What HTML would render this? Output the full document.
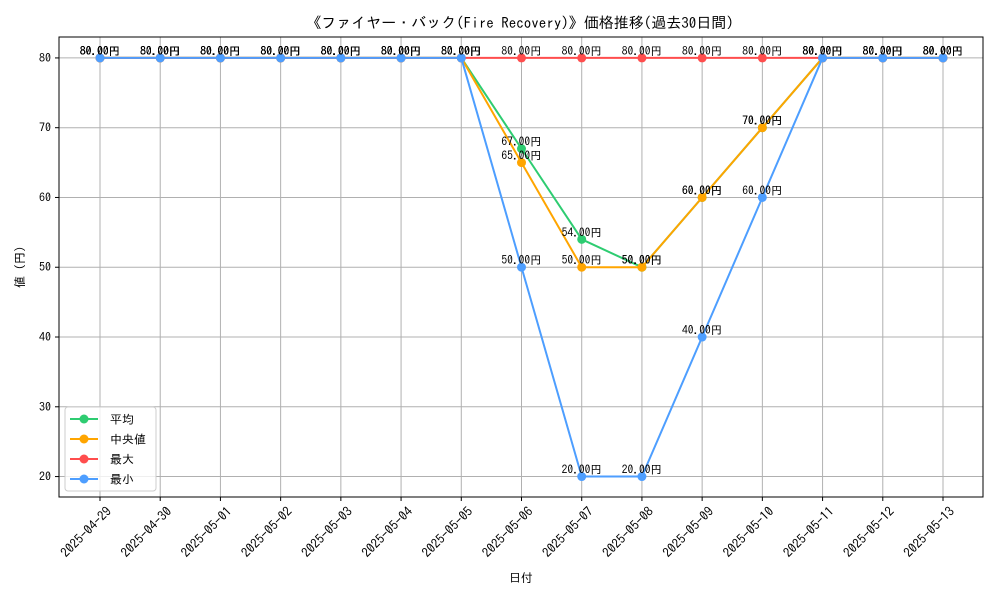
<!DOCTYPE html>
<html><head><meta charset="utf-8"><style>
body{margin:0;background:#fff}
svg text{font-family:"IPAGothic","Liberation Sans","Noto Sans CJK JP",sans-serif;fill:#000}
</style></head><body>
<svg id="chart" width="1000" height="600" xmlns="http://www.w3.org/2000/svg">
<rect width="1000" height="600" fill="#fff"/>
<text x="520" y="28" font-size="15" text-anchor="middle">《ファイヤー・バック(Fire Recovery)》価格推移(過去30日間)</text>
<g id="grid"></g>
<g id="axes"></g>
<g id="series"></g>
<rect x="59" y="37" width="924" height="460" fill="none" stroke="#000" stroke-width="1"/>
<text x="521" y="582" font-size="12" text-anchor="middle">日付</text>
<text transform="translate(24,267) rotate(-90)" font-size="12" text-anchor="middle">値 (円)</text>
<g id="legend"></g>
</svg>
<script>
const dates=["2025-04-29","2025-04-30","2025-05-01","2025-05-02","2025-05-03","2025-05-04","2025-05-05","2025-05-06","2025-05-07","2025-05-08","2025-05-09","2025-05-10","2025-05-11","2025-05-12","2025-05-13"];
const avgValues=[80,80,80,80,80,80,80,67,54,50,60,70,80,80,80];
const medianValues=[80,80,80,80,80,80,80,65,50,50,60,70,80,80,80];
const maxValues=[80,80,80,80,80,80,80,80,80,80,80,80,80,80,80];
const minValues=[80,80,80,80,80,80,80,50,20,20,40,60,80,80,80];
const yTicks=[20,30,40,50,60,70,80];
const seriesNames=["平均","中央値","最大","最小"];

const NS="http://www.w3.org/2000/svg";
const X0=100,X1=943,Y0=17.07,Y1=83.0,PT=37,PB=497;
const xs=i=>X0+(X1-X0)*i/(dates.length-1);
const ys=v=>PB-(v-Y0)/(Y1-Y0)*(PB-PT);
function mk(tag,attrs,parent){const e=document.createElementNS(NS,tag);for(const k in attrs)e.setAttribute(k,attrs[k]);parent.appendChild(e);return e;}
const grid=document.getElementById('grid'),axes=document.getElementById('axes'),ser=document.getElementById('series'),leg=document.getElementById('legend');
dates.forEach((d,i)=>{
  const x=xs(i);
  const g=mk('line',{x1:x,x2:x,y1:PT,y2:PB,stroke:'#b0b0b0','stroke-width':1},grid);
  
  
  mk('line',{x1:x,x2:x,y1:PB,y2:PB+4,stroke:'#000'},axes);
  const t=mk('text',{transform:`translate(${x+6},${PB+9}) rotate(-45)`,'font-size':13,'text-anchor':'end','dominant-baseline':'hanging'},axes);
  
  
  t.textContent=d;
});
yTicks.forEach(v=>{
  const y=ys(v);
  const g=mk('line',{x1:59,x2:983,y1:y,y2:y,stroke:'#b0b0b0','stroke-width':1},grid);
  
  
  mk('line',{x1:55,x2:59,y1:y,y2:y,stroke:'#000'},axes);
  const t=mk('text',{x:51,y:y+4,'font-size':12,'text-anchor':'end'},axes);
  
  
  t.textContent=v;
});
const allSeries=[avgValues,medianValues,maxValues,minValues];
const colors=["#2ecc71","#ffa500","#ff4d4d","#4d9eff"];
const keys=["avg","median","max","min"];
allSeries.forEach((vals,s)=>{
  const p=mk('polyline',{points:vals.map((v,i)=>xs(i)+','+ys(v)).join(' '),fill:'none',stroke:colors[s],'stroke-width':2},ser);
  
  
  vals.forEach((v,i)=>{
    const c=mk('circle',{cx:xs(i),cy:ys(v),r:4.5,fill:colors[s]},ser);
    
    
  });
});
allSeries.forEach((vals,s)=>{
  vals.forEach((v,i)=>{
    const t=mk('text',{x:xs(i),y:ys(v)-3,'font-size':11.5,'text-anchor':'middle'},ser);
    
    
    t.textContent=v.toFixed(2)+'円';
  });
});
mk('rect',{x:65,y:407,width:91,height:84,rx:3,fill:'#fff','fill-opacity':0.8,stroke:'#ccc'},leg);
seriesNames.forEach((n,s)=>{
  const y=419+s*20;
  const g=mk('g',{},leg);
  
  
  mk('line',{x1:70,x2:98,y1:y,y2:y,stroke:colors[s],'stroke-width':2},g);
  mk('circle',{cx:84,cy:y,r:4.5,fill:colors[s]},g);
  const t=mk('text',{x:110,y:y+4.5,'font-size':12},g);
  t.textContent=n;
});
</script>
</body></html>
